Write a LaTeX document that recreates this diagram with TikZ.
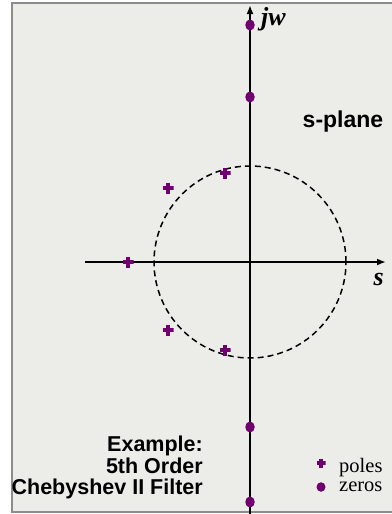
\documentclass[tikz,border=0pt]{standalone}
\usepackage{fontspec}
\setmainfont{Liberation Serif}
\setsansfont{Liberation Sans}
\usetikzlibrary{arrows.meta,shapes.geometric}
\definecolor{plum}{RGB}{112,0,112}
\definecolor{panel}{RGB}{236,236,233}
\definecolor{rim}{RGB}{140,140,140}

\begin{document}
\begin{tikzpicture}[x=1pt, y=-1pt,
  axisline/.style={line width=1.9pt, -{Latex[length=9pt,width=7pt]}},
  pole/.style={minimum size=11pt, inner sep=0pt, path picture={\draw[plum, line width=3.6pt] (path picture bounding box.north) -- (path picture bounding box.south) (path picture bounding box.west) -- (path picture bounding box.east);}},
  zero/.style={ellipse, fill=plum, minimum width=9.5pt, minimum height=11pt, inner sep=0pt},
  heading/.style={font=\sffamily\bfseries\fontsize{21.5}{23}\selectfont, inner sep=0pt},
  legendtext/.style={font=\fontsize{20.5}{22}\selectfont, inner sep=0pt},
  axislabel/.style={font=\bfseries\itshape\fontsize{26}{28}\selectfont, inner sep=0pt}]
\useasboundingbox (0,0) rectangle (391,514);
\draw[rim, fill=panel, line width=2pt] (12,3) rectangle (400,512);
% axes
\coordinate (xl) at (85,262); \coordinate (xr) at (386,262);
\coordinate (yb) at (250,520); \coordinate (yt) at (250,5);
\draw[axisline] (xl) -- (xr);
\draw[axisline] (yb) -- (yt);
\node[axislabel, anchor=base west] (jw) at (261,25) {jw};
\node[axislabel, anchor=base east] (s) at (384,285) {s};
% circle of the poles
\node[circle, draw, line width=1.5pt, dash pattern=on 6pt off 4pt, minimum size=192pt, inner sep=0pt] (ring) at (250,262) {};
% poles
\node[pole] (p1) at (225,173) {};
\node[pole] (p2) at (168,188) {};
\node[pole] (p3) at (128,262) {};
\node[pole] (p4) at (168,330) {};
\node[pole] (p5) at (225,350) {};
% zeros
\node[zero] (z1) at (250,25) {};
\node[zero] (z2) at (250,97) {};
\node[zero] (z3) at (250,427) {};
\node[zero] (z4) at (250,502) {};
% texts
\node[heading, font=\sffamily\bfseries\fontsize{23}{25}\selectfont, anchor=base] (plane) at (343,127) {s-plane};
\node[heading, anchor=base east] (ex1) at (203,451) {Example:};
\node[heading, anchor=base east] (ex2) at (203,473) {5th Order};
\node[heading, anchor=base east] (ex3) at (203,494) {Chebyshev II Filter};
% legend
\node[pole, minimum size=9pt] (kp) at (321,463) {};
\node[legendtext, anchor=base west] (kpl) at (339,472) {poles};
\node[zero, minimum width=9pt, minimum height=9.5pt] (kz) at (321,487) {};
\node[legendtext, anchor=base west] (kzl) at (339,491) {zeros};
\end{tikzpicture}
\end{document}
